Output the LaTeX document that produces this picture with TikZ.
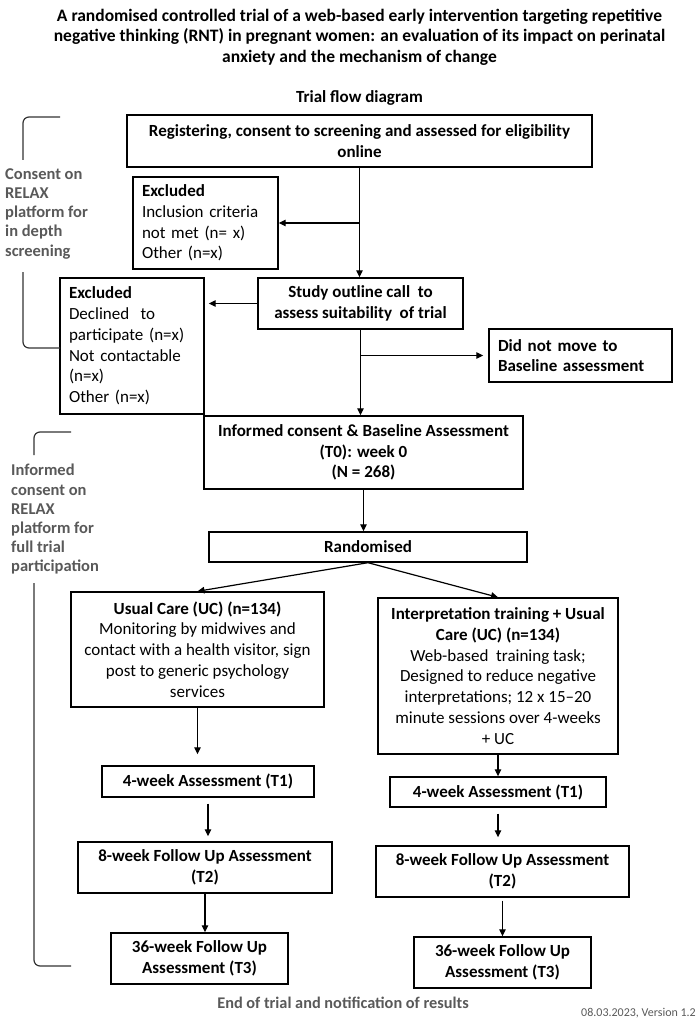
\documentclass[tikz,border=0pt]{standalone}
\usepackage{fontspec}
\setmainfont{Carlito}
\usetikzlibrary{arrows.meta}
\definecolor{labelgray}{HTML}{595959}
\tikzstyle{box}=[draw, line width=1.4pt, inner sep=0pt, align=center, font=\bfseries\fontsize{17}{20.8}\selectfont]
\tikzstyle{excl}=[draw, line width=1.4pt, inner sep=0pt, align=left, font=\fontsize{17}{20.8}\selectfont]
\tikzstyle{side}=[anchor=west, inner sep=0pt, align=left, text=labelgray, font=\bfseries\fontsize{16.5}{19.2}\selectfont]
\tikzstyle{flow}=[-{Triangle[length=7pt,width=6.5pt]}, line width=1.2pt]
\tikzstyle{brace}=[line width=1.2pt, rounded corners=6pt, draw=black!80]

\begin{document}
\begin{tikzpicture}[x=1pt, y=-1pt]
                \useasboundingbox (0,0) rectangle (697,1024);
                \node[inner sep=0pt, align=center, font=\bfseries\fontsize{17.5}{20.5}\selectfont] (title) at (359.5,37) {A randomised controlled trial of a web-based early intervention targeting repetitive\\negative thinking (RNT) in pregnant women: an evaluation of its impact on perinatal\\anxiety and the mechanism of change};
                \node[inner sep=0pt, font=\bfseries\fontsize{17}{20}\selectfont] (sub) at (359.5,98) {Trial flow diagram};
                \node[box, minimum width=465pt, minimum height=52pt] (reg) at (359.5,141) {Registering, consent to screening and assessed for eligibility\\online};
                \node[excl, minimum width=145pt, minimum height=92pt, text width=127pt] (ex1) at (205.5,223) {\textbf{Excluded}\\Inclusion criteria\\not met (n= x)\\Other (n=x)};
                \node[box, minimum width=205pt, minimum height=51pt] (study) at (360.5,303.5) {Study outline call\ \ to\\assess suitability\ \ of trial};
                \node[excl, minimum width=144pt, minimum height=136pt, text width=126pt] (ex2) at (132,346) {\textbf{Excluded}\\Declined\ \ to\\participate (n=x)\\Not contactable\\(n=x)\\Other (n=x)};
                \node[box, align=left, minimum width=183pt, minimum height=53pt, text width=165pt] (dnm) at (580.5,355.5) {Did not move to\\Baseline assessment};
                \node[box, minimum width=319pt, minimum height=73pt] (ic) at (363.5,452.5) {Informed consent \& Baseline Assessment\\(T0): week 0\\(N = 268)};
                \node[box, minimum width=318pt, minimum height=30pt] (rand) at (368,547) {Randomised};
                \node[excl, align=center, minimum width=253pt, minimum height=115pt] (uc) at (197.5,649.5) {\textbf{Usual Care (UC) (n=134)}\\Monitoring by midwives and\\contact with a health visitor, sign\\post to generic psychology\\services};
                \node[excl, align=center, minimum width=240pt, minimum height=156pt] (it) at (498,676) {\textbf{Interpretation training + Usual}\\\textbf{Care (UC) (n=134)}\\Web-based\ \ training task;\\Designed to reduce negative\\interpretations; 12 x 15--20\\minute sessions over 4-weeks\\+ UC};
                \node[box, minimum width=212pt, minimum height=31pt] (t1l) at (208,781.5) {4-week Assessment (T1)};
                \node[box, minimum width=254pt, minimum height=51pt] (t2l) at (205,867.5) {8-week Follow Up Assessment\\(T2)};
                \node[box, minimum width=177pt, minimum height=51pt] (t3l) at (199.5,958.5) {36-week Follow Up\\Assessment (T3)};
                \node[box, minimum width=216pt, minimum height=30pt] (t1r) at (498,792) {4-week Assessment (T1)};
                \node[box, minimum width=253pt, minimum height=51pt] (t2r) at (502.5,871.5) {8-week Follow Up Assessment\\(T2)};
                \node[box, minimum width=177pt, minimum height=51pt] (t3r) at (502.5,962.5) {36-week Follow Up\\Assessment (T3)};
                \node[side] (lab1) at (5,213.6) {Consent on\\RELAX\\platform for\\in depth\\screening};
                \node[side] (lab2) at (11,519.5) {Informed\\consent on\\RELAX\\platform for\\full trial\\participation};
                \node[inner sep=0pt, text=labelgray, font=\bfseries\fontsize{16.3}{19}\selectfont] (end) at (343,1003) {End of trial and notification of results};
                \node[anchor=east, inner sep=0pt, text=labelgray, font=\fontsize{12}{14}\selectfont] (ver) at (696,1013) {08.03.2023, Version 1.2};
                \coordinate (k1a) at (60,117);
                \coordinate (k1b) at (23,160);
                \coordinate (k1c) at (23,272);
                \coordinate (k1d) at (60,348);
                \coordinate (k2a) at (71,432);
                \coordinate (k2b) at (34,455);
                \coordinate (k2c) at (34,583);
                \coordinate (k2d) at (71,966);
                \draw[brace] (k1a) -| (k1b);
                \draw[brace] (k1c) |- (k1d);
                \draw[brace] (k2a) -| (k2b);
                \draw[brace] (k2c) |- (k2d);
                \coordinate (b1) at (reg.south |- ex1.east);
                \coordinate (b2) at (study.south |- dnm.west);
                \draw[flow] (reg.south) -- (reg.south |- study.north);
                \draw[flow] (b1) -- (ex1.east);
                \draw[flow, shorten >=4pt] (study.west) -- (study.west -| ex2.east);
                \draw[flow] (study.south) -- (study.south |- ic.north);
                \draw[flow, shorten >=5pt] (b2) -- (dnm.west);
                \draw[flow] (ic.south) -- (ic.south |- rand.north);
                \draw[flow] (rand.south) -- (uc.north);
                \draw[flow] (rand.south) -- (it.north);
                \draw[flow, shorten >=11pt] (uc.south) -- (uc.south |- t1l.north);
                \draw[flow, shorten <=6pt, shorten >=5pt] (t1l.south) -- (t1l.south |- t2l.north);
                \draw[flow] (t2l.south) -- (t2l.south |- t3l.north);
                \draw[flow] (it.south) -- (it.south |- t1r.north);
                \draw[flow, shorten <=6pt, shorten >=8pt] (t1r.south) -- (t1r.south |- t2r.north);
                \draw[flow, shorten <=3pt] (t2r.south) -- (t2r.south |- t3r.north);
            \end{tikzpicture}
\end{document}
